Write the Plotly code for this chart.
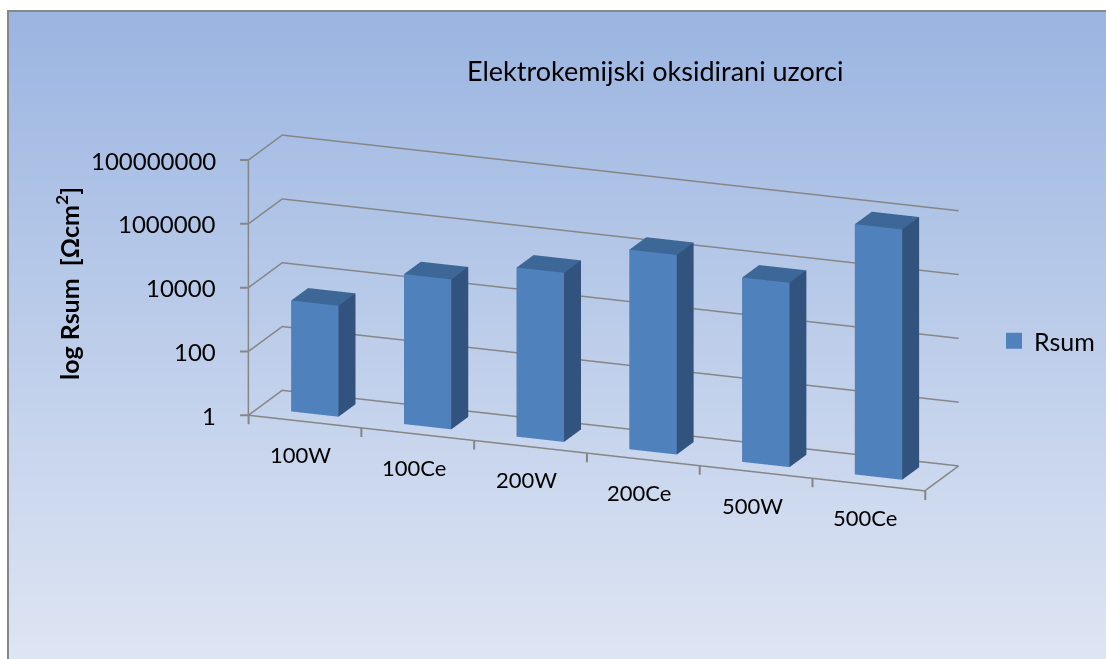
import base64
import math
import struct
import zlib

import plotly.graph_objects as go

# Sample names and summed resistance (Ohm*cm^2)
categories = ["100W", "100Ce", "200W", "200Ce", "500W", "500Ce"]
rsum = [3000, 50000, 200000, 1800000, 600000, 70000000]

z_tickvals = [1, 100, 10000, 1000000, 100000000]
z_ticktext = ["1", "100", "10000", "1000000", "100000000"]

W, H = 1106, 659
FONT = "Lato"
BAR_FRONT = "#4f81bd"
BAR_SIDE = "#31537e"
BAR_TOP = "#3d6797"
GRID = "#868686"

X_RANGE = [-0.5, len(categories) - 0.5]
Y_RANGE = [0, 1]
PAD = 0.02  # keeps wall lines clear of the scene clip box


def gradient_png(top, bottom, h=256):
    rows = b""
    for i in range(h):
        t = i / (h - 1)
        c = [round(a + (b - a) * t) for a, b in zip(top, bottom)]
        rows += b"\x00" + bytes(c)

    def chunk(tag, data):
        return (struct.pack(">I", len(data)) + tag + data
                + struct.pack(">I", zlib.crc32(tag + data) & 0xFFFFFFFF))

    ihdr = struct.pack(">IIBBBBB", 1, h, 8, 2, 0, 0, 0)
    png = (b"\x89PNG\r\n\x1a\n" + chunk(b"IHDR", ihdr)
           + chunk(b"IDAT", zlib.compress(rows)) + chunk(b"IEND", b""))
    return "data:image/png;base64," + base64.b64encode(png).decode()


# Build one box per category: front, right side and top faces get their own shade
half_w = 0.21
y_front, y_back = 0.30, 0.80
xs, ys, zs = [], [], []
ii, jj, kk, fcol = [], [], [], []
for idx, val in enumerate(rsum):
    x0, x1 = idx - half_w, idx + half_w
    base = len(xs)
    corners = [
        (x0, y_front, 1), (x1, y_front, 1), (x1, y_back, 1), (x0, y_back, 1),
        (x0, y_front, val), (x1, y_front, val), (x1, y_back, val), (x0, y_back, val),
    ]
    for cx, cy, cz in corners:
        xs.append(cx)
        ys.append(cy)
        zs.append(cz)
    faces = [
        ((0, 1, 5), BAR_FRONT), ((0, 5, 4), BAR_FRONT),
        ((1, 2, 6), BAR_SIDE), ((1, 6, 5), BAR_SIDE),
        ((4, 5, 6), BAR_TOP), ((4, 6, 7), BAR_TOP),
        ((0, 3, 7), BAR_SIDE), ((0, 7, 4), BAR_SIDE),
        ((3, 2, 6), BAR_SIDE), ((3, 6, 7), BAR_SIDE),
        ((0, 1, 2), BAR_SIDE), ((0, 2, 3), BAR_SIDE),
    ]
    for (a, b, c), col in faces:
        ii.append(base + a)
        jj.append(base + b)
        kk.append(base + c)
        fcol.append(col)

bars = go.Mesh3d(
    x=xs, y=ys, z=zs, i=ii, j=jj, k=kk,
    facecolor=fcol, flatshading=True,
    lighting=dict(ambient=1.0, diffuse=0.0, specular=0.0, roughness=1.0, fresnel=0.0),
    hoverinfo="skip", showlegend=False, name="Rsum",
)

# Wall gridlines (left side wall + back wall) at each value tick,
# plus the front/right floor edges and the vertical value axis
gx, gy, gz = [], [], []
for tv in z_tickvals:
    gx += [X_RANGE[0], X_RANGE[0], X_RANGE[1], None]
    gy += [Y_RANGE[0], Y_RANGE[1], Y_RANGE[1], None]
    gz += [tv, tv, tv, None]
gx += [X_RANGE[0], X_RANGE[1], X_RANGE[1], None]
gy += [Y_RANGE[0], Y_RANGE[0], Y_RANGE[1], None]
gz += [z_tickvals[0], z_tickvals[0], z_tickvals[0], None]
gx += [X_RANGE[0], X_RANGE[0]]
gy += [Y_RANGE[0], Y_RANGE[0]]
gz += [z_tickvals[0], z_tickvals[-1]]

grid = go.Scatter3d(
    x=gx, y=gy, z=gz, mode="lines", line=dict(color=GRID, width=3),
    hoverinfo="skip", showlegend=False, connectgaps=False,
)

legend_key = go.Scatter3d(
    x=[None], y=[None], z=[None], mode="markers", name="Rsum",
    marker=dict(symbol="square", size=16, color=BAR_FRONT), showlegend=True,
)

fig = go.Figure([grid, bars, legend_key])

axis_common = dict(
    showbackground=False, showspikes=False, zeroline=False, showgrid=False,
    showline=False, ticks="", title=dict(text=""), showticklabels=False,
)

# Category and value labels placed in scene coordinates
# (scene annotations on a log axis take the exponent)
scene_labels = []
for idx, name in enumerate(categories):
    scene_labels.append(dict(
        x=idx, y=0, z=0, text=name, showarrow=False,
        font=dict(size=22, family=FONT, color="black"),
        xanchor="center", yanchor="middle", xshift=-4, yshift=-33,
    ))
for val, txt in zip(z_tickvals, z_ticktext):
    scene_labels.append(dict(
        x=X_RANGE[0], y=0, z=math.log10(val), text=txt, showarrow=False,
        font=dict(size=24, family=FONT, color="black"),
        xanchor="right", yanchor="middle", xshift=-31, yshift=0,
    ))
    # short tick to the left of the value axis
    scene_labels.append(dict(
        x=X_RANGE[0], y=0, z=math.log10(val), text=" ", font=dict(size=1),
        showarrow=True, arrowhead=0, arrowwidth=2, arrowcolor=GRID,
        ax=-10, ay=0, standoff=0,
    ))
# Category boundary tick marks hanging below the front floor edge
for b in range(len(categories) + 1):
    scene_labels.append(dict(
        x=b - 0.5, y=0, z=0, text=" ", font=dict(size=1),
        showarrow=True, arrowhead=0, arrowwidth=2, arrowcolor=GRID,
        ax=0, ay=11, standoff=0,
    ))

view_dir = (0.348, -0.893, 0.287)
R = 1.8

fig.update_layout(
    template="none",
    width=W, height=H,
    margin=dict(l=0, r=0, t=0, b=0),
    paper_bgcolor="white",
    font=dict(family=FONT, color="black"),
    showlegend=True,
    legend=dict(
        x=994 / W, y=1 - 341 / H, xanchor="left", yanchor="middle",
        bgcolor="rgba(0,0,0,0)", font=dict(size=25, family=FONT),
    ),
    scene=dict(
        domain=dict(x=[0.2, 0.892], y=[0.188, 0.862]),
        aspectmode="manual",
        aspectratio=dict(x=3.27 * (1 + 2 * PAD / 6), y=0.42 * (1 + 2 * PAD), z=1.2 * (1 + 2 * PAD / 8)),
        camera=dict(
            projection=dict(type="orthographic"),
            eye=dict(x=R * view_dir[0], y=R * view_dir[1], z=R * view_dir[2]),
            up=dict(x=0, y=0, z=1),
            center=dict(x=0, y=0, z=0),
        ),
        bgcolor="rgba(0,0,0,0)",
        xaxis=dict(axis_common, range=[X_RANGE[0] - PAD, X_RANGE[1] + PAD]),
        yaxis=dict(axis_common, range=[Y_RANGE[0] - PAD, Y_RANGE[1] + PAD]),
        zaxis=dict(axis_common, type="log", range=[-PAD, 8 + PAD]),
        annotations=scene_labels,
    ),
    images=[dict(
        source=gradient_png((155, 181, 225), (222, 229, 243)),
        xref="paper", yref="paper", x=8 / W, y=1 - 10 / H,
        sizex=1 - 8 / W, sizey=1 - 10 / H, xanchor="left", yanchor="top",
        sizing="stretch", layer="below",
    )],
    shapes=[dict(
        type="rect", xref="paper", yref="paper",
        x0=8 / W, x1=1.02, y0=-0.02, y1=1 - 11 / H,
        line=dict(color="#878787", width=2), layer="below",
    )],
    annotations=[
        dict(
            text="Elektrokemijski oksidirani uzorci", x=655 / W, y=1 - 70 / H,
            xref="paper", yref="paper", showarrow=False,
            xanchor="center", yanchor="middle",
            font=dict(size=27, family=FONT, color="black"),
        ),
        dict(
            text="<b>log Rsum  [Ωcm<sup>2</sup>]</b>", x=67 / W, y=1 - 284 / H,
            xref="paper", yref="paper", showarrow=False, textangle=-90,
            xanchor="center", yanchor="middle",
            font=dict(size=25, family=FONT, color="black"),
        ),
    ],
)

fig.write_html("out.html")
